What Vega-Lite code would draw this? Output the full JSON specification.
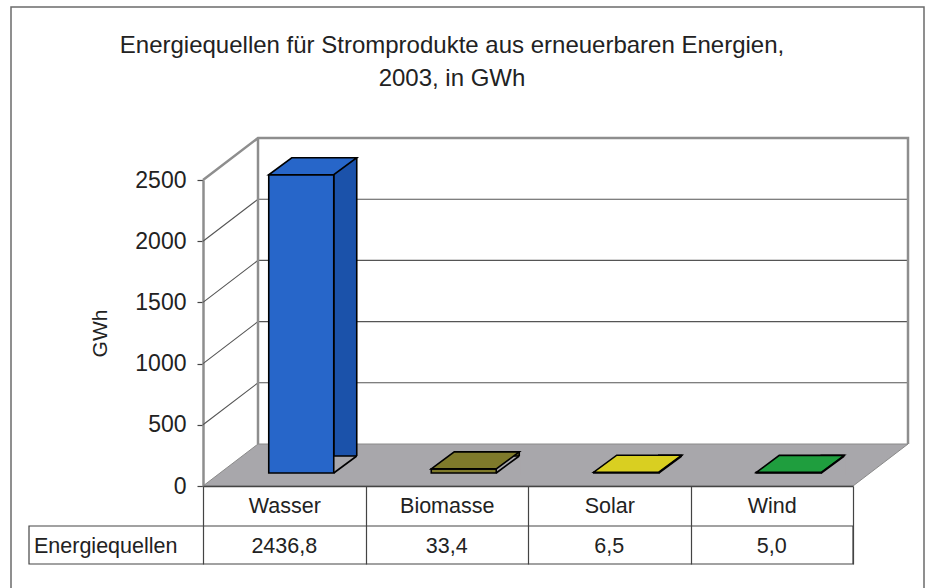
{
  "$schema": "https://vega.github.io/schema/vega-lite/v6.json",
  "width": 650,
  "height": 306,
  "autosize": {"type": "none"},
  "padding": {"left": 203, "top": 180, "right": 77, "bottom": 102},
  "background": "white",
  "config": {
    "font": "Liberation Sans",
    "view": {"stroke": null},
    "locale": {"number": {"decimal": ",", "thousands": ".", "grouping": [3], "currency": ["", " €"]}}
  },
  "title": {
    "text": ["Energiequellen für Stromprodukte aus erneuerbaren Energien,", "2003, in GWh"],
    "fontSize": 24,
    "fontWeight": "normal",
    "color": "#222222",
    "anchor": "middle",
    "frame": "group",
    "baseline": "alphabetic",
    "lineHeight": 33,
    "offset": -106,
    "dx": -76
  },
  "datasets": {
    "quellen": [
      {"Energiequelle": "Wasser", "GWh": 2436.8},
      {"Energiequelle": "Biomasse", "GWh": 33.4},
      {"Energiequelle": "Solar", "GWh": 6.5},
      {"Energiequelle": "Wind", "GWh": 5.0}
    ],
    "ticks": [{"GWh": 500}, {"GWh": 1000}, {"GWh": 1500}, {"GWh": 2000}],
    "one": [{"Zeile": "Energiequellen"}]
  },
  "data": {"name": "quellen"},
  "layer": [
    {
      "data": {"name": "one"},
      "mark": {"type": "point", "shape": "M-273.25,-173 L639.75,-173 L639.75,420 L-273.25,420 Z", "size": 4, "filled": false, "stroke": "#6b6b6b", "strokeWidth": 1.5, "opacity": 1},
      "encoding": {"x": {"datum": "Wasser"}, "y": {"datum": 2500}}
    },
    {
      "data": {"name": "one"},
      "mark": {"type": "point", "shape": "M-81.25,0 L568.75,0 L623.75,-42 L-26.25,-42 Z", "size": 4, "filled": true, "fill": "#a8a7ab", "stroke": "#8a8a8a", "strokeWidth": 1, "opacity": 1},
      "encoding": {"x": {"datum": "Wasser"}, "y": {"datum": 0}}
    },
    {
      "data": {"name": "ticks"},
      "mark": {"type": "point", "shape": "M-81.25,0 L-26.25,-42 L623.75,-42", "size": 4, "filled": false, "stroke": "#555555", "strokeWidth": 1.1, "opacity": 1},
      "encoding": {"x": {"datum": "Wasser"}, "y": {"field": "GWh", "type": "quantitative"}}
    },
    {
      "data": {"name": "one"},
      "mark": {"type": "point", "shape": "M-81.25,0 L-26.25,-42 L623.75,-42 L623.75,264 M-26.25,-42 L-26.25,264", "size": 4, "filled": false, "stroke": "#8e8e8e", "strokeWidth": 2.5, "opacity": 1},
      "encoding": {"x": {"datum": "Wasser"}, "y": {"datum": 2500}}
    },
    {
      "mark": {"type": "bar", "width": 23, "xOffset": 61, "yOffset": -30, "y2Offset": -13, "stroke": "black", "strokeWidth": 1.6, "opacity": 1},
      "encoding": {
        "x": {
          "field": "Energiequelle", "type": "nominal", "sort": null,
          "scale": {"domain": ["Wasser", "Biomasse", "Solar", "Wind"], "paddingInner": 0, "paddingOuter": 0},
          "axis": {
            "title": null, "labelAngle": 0, "labelAlign": "center", "labelFontSize": 21.5, "labelColor": "#222222",
            "labelBaseline": "middle", "labelPadding": -58,
            "tickBand": "extent", "tickSize": 78, "tickColor": "#444444", "tickWidth": 1.2,
            "domainColor": "#444444", "domainWidth": 1.5, "zindex": 1
          }
        },
        "y": {
          "field": "GWh", "type": "quantitative",
          "scale": {"domain": [0, 2500], "nice": false},
          "axis": {
            "values": [0, 500, 1000, 1500, 2000, 2500], "format": "d", "grid": false,
            "labelFontSize": 23, "labelColor": "#222222", "labelPadding": 11,
            "tickSize": 6, "tickColor": "#444444", "tickWidth": 1.2,
            "domainColor": "#8e8e8e", "domainWidth": 2.5,
            "title": "GWh", "titleFontSize": 21, "titleFontWeight": "normal", "titleColor": "#222222", "titlePadding": 24
          }
        },
        "color": {
          "field": "Energiequelle", "type": "nominal", "legend": null,
          "scale": {"domain": ["Wasser", "Biomasse", "Solar", "Wind"], "range": ["#1b52aa", "#5f5b1d", "#aaa016", "#15782c"]}
        }
      }
    },
    {
      "mark": {"type": "point", "shape": "M49.5,-13 L72.5,-30 L74,-30 L74,-11 L48.5,-11 L48.5,-13 Z", "size": 4, "filled": true, "fill": "#a8a7ab", "strokeWidth": 0, "opacity": 1},
      "encoding": {"x": {"field": "Energiequelle", "type": "nominal"}, "y": {"datum": 0}}
    },
    {
      "mark": {"type": "bar", "width": 65, "xOffset": 17, "yOffset": -13, "y2Offset": -13, "stroke": "black", "strokeWidth": 1.6, "opacity": 1},
      "encoding": {
        "x": {"field": "Energiequelle", "type": "nominal"},
        "y": {"field": "GWh", "type": "quantitative"},
        "fill": {
          "field": "Energiequelle", "type": "nominal", "legend": null,
          "scale": {"domain": ["Wasser", "Biomasse", "Solar", "Wind"], "range": ["#2766c9", "#7f7a2b", "#d9cf21", "#1f9e3e"]}
        }
      }
    },
    {
      "mark": {"type": "point", "shape": "M-15.5,-13 L49.5,-13 L72.5,-30 L7.5,-30 Z", "size": 4, "filled": true, "stroke": "black", "strokeWidth": 1.6, "opacity": 1},
      "encoding": {
        "x": {"field": "Energiequelle", "type": "nominal"},
        "y": {"field": "GWh", "type": "quantitative"},
        "fill": {"field": "Energiequelle", "type": "nominal", "legend": null}
      }
    },
    {
      "mark": {"type": "point", "shape": "M49.5,-13 L72.5,-30", "size": 4, "filled": false, "stroke": "black", "strokeWidth": 1.6, "opacity": 1},
      "encoding": {"x": {"field": "Energiequelle", "type": "nominal"}, "y": {"datum": 0}}
    },
    {
      "data": {"name": "one"},
      "mark": {"type": "point", "shape": "M-255.25,40 L568.75,40 L568.75,78 L-255.25,78 Z", "size": 4, "filled": false, "stroke": "#444444", "strokeWidth": 1.2, "opacity": 1},
      "encoding": {"x": {"datum": "Wasser"}, "y": {"datum": 0}}
    },
    {
      "mark": {"type": "text", "fontSize": 21.5, "color": "#222222", "align": "center", "baseline": "middle", "yOffset": 61},
      "encoding": {
        "x": {"field": "Energiequelle", "type": "nominal"},
        "y": {"datum": 0},
        "text": {"field": "GWh", "type": "quantitative", "format": ".1f"}
      }
    },
    {
      "data": {"name": "one"},
      "mark": {"type": "text", "fontSize": 21.5, "color": "#222222", "align": "left", "baseline": "middle", "xOffset": -250.25, "yOffset": 61},
      "encoding": {
        "x": {"datum": "Wasser"},
        "y": {"datum": 0},
        "text": {"field": "Zeile", "type": "nominal"}
      }
    }
  ]
}
